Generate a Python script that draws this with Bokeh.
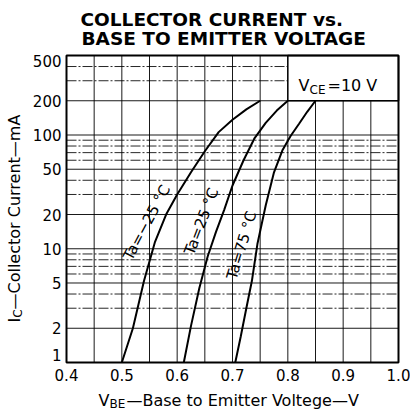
from math import radians, log10
from bokeh.plotting import figure
from bokeh.models import Label, Range1d
from bokeh.core.properties import value
from bokeh.embed import file_html
from bokeh.resources import INLINE

# ---- data ----
vbe_m25 = [0.500, 0.520, 0.540, 0.560, 0.580, 0.600, 0.625, 0.650, 0.675, 0.700, 0.725, 0.750]
ic_m25 = [1.0, 2.0, 5.2, 11.5, 20, 30, 47, 72, 106, 136, 168, 200]

vbe_25 = [0.612, 0.625, 0.640, 0.655, 0.670, 0.685, 0.700, 0.720, 0.740, 0.760, 0.780, 0.800]
ic_25 = [1.0, 2.1, 4.5, 8.5, 14, 22, 36, 60, 94, 128, 164, 200]

vbe_75 = [0.705, 0.715, 0.725, 0.735, 0.745, 0.760, 0.775, 0.790, 0.805, 0.820, 0.835, 0.850]
ic_75 = [1.0, 1.7, 3.0, 5.2, 11, 24, 47, 73, 98, 125, 160, 200]

series_labels = ["Ta=\u221225 \u00b0C", "Ta=25 \u00b0C", "Ta=75 \u00b0C"]

x_ticks = [0.4, 0.5, 0.6, 0.7, 0.8, 0.9, 1.0]
x_tick_labels = ["0.4", "0.5", "0.6", "0.7", "0.8", "0.9", "1.0"]
x_grid = [0.45, 0.5, 0.55, 0.6, 0.65, 0.7, 0.75, 0.8, 0.85, 0.9, 0.95]
y_ticks = [1, 2, 5, 10, 20, 50, 100, 200, 500]
y_tick_labels = ["1", "2", "5", "10", "20", "50", "100", "200", "500"]
y_grid_major = [2, 5, 10, 20, 50, 100, 200]
y_grid_minor = [3, 4, 6, 7, 8, 9, 30, 40, 60, 70, 80, 90, 300, 400]

# condition box (V_CE = 10 V) bounds in data space
vce_box = dict(left=0.8, right=1.0, bottom=200, top=500)

FONT = "DejaVu Sans"

# ---- layout (canvas pixels) ----
W, H = 410, 414
BOX_L, BOX_R, BOX_T, BOX_B = 66, 398, 55, 362

xmin, xmax = x_ticks[0], x_ticks[-1]
ymin, ymax = y_ticks[0], y_ticks[-1]
xs_per_px = (xmax - xmin) / (BOX_R - BOX_L)
x0 = xmin - BOX_L * xs_per_px
x1 = xmax + (W - BOX_R) * xs_per_px
dec_per_px = (log10(ymax) - log10(ymin)) / (BOX_B - BOX_T)
y0 = 10 ** (log10(ymin) - (H - BOX_B) * dec_per_px)
y1 = 10 ** (log10(ymax) + BOX_T * dec_per_px)

p = figure(width=W, height=H, x_range=Range1d(x0, x1), y_range=Range1d(y0, y1),
           y_axis_type="log", x_axis_location=None, y_axis_location=None,
           output_backend="svg", toolbar_location=None, min_border=0)
p.outline_line_color = None
p.background_fill_color = "white"
p.border_fill_color = "white"
p.xgrid.visible = False
p.ygrid.visible = False

# grid lines
p.segment(x0=x_grid, y0=[ymin] * len(x_grid), x1=x_grid, y1=[ymax] * len(x_grid),
          line_color="black", line_width=1, line_alpha=0.9)
p.segment(x0=[xmin] * len(y_grid_major), y0=y_grid_major, x1=[xmax] * len(y_grid_major),
          y1=y_grid_major, line_color="black", line_width=1, line_alpha=0.9)
p.segment(x0=[xmin] * len(y_grid_minor), y0=y_grid_minor, x1=[xmax] * len(y_grid_minor),
          y1=y_grid_minor, line_color="black", line_width=1, line_alpha=0.85,
          line_dash="10 2 2 2")

# condition box covers the grid
p.quad(fill_color="white", line_color="black", line_width=1.5, **vce_box)

# plot frame
p.quad(left=xmin, right=xmax, bottom=ymin, top=ymax, fill_color=None,
       line_color="black", line_width=2)

# tick labels
p.text(x=x_ticks, y=[ymin] * len(x_ticks), text=x_tick_labels, y_offset=6,
       text_align="center", text_baseline="top", text_font=value(FONT),
       text_font_size="15px", text_color="black")
y_offs = [0] * len(y_ticks)
y_offs[0] = -8
y_offs[-1] = 5
p.text(x=[xmin] * len(y_ticks), y=y_ticks, text=y_tick_labels, x_offset=-5, y_offset=y_offs,
       text_align="right", text_baseline="middle", text_font=value(FONT),
       text_font_size="15px", text_color="black")

# curves
for xs, ys in ((vbe_m25, ic_m25), (vbe_25, ic_25), (vbe_75, ic_75)):
    p.line(xs, ys, line_color="black", line_width=2)

# curve labels
for (lx, ly, ang), txt in zip(((0.545, 17.0, 62), (0.644, 17.4, 69), (0.7165, 10.7, 73)),
                              series_labels):
    p.add_layout(Label(x=lx, y=ly, text=txt, angle=radians(ang), text_align="center",
                       text_baseline="middle", text_font=FONT, text_font_size="15px",
                       text_color="black"))


def slabel(px, py, text, size, bold=False, angle=0.0, align="left"):
    p.add_layout(Label(x=px, y=H - py, x_units="screen", y_units="screen", text=text,
                       angle=angle, text_align=align, text_baseline="alphabetic",
                       text_font=FONT, text_font_size=f"{size}px",
                       text_font_style="bold" if bold else "normal", text_color="black"))


# V_CE = 10 V
slabel(298, 85, "V", 16)
slabel(309, 89, "CE", 12)
slabel(327, 85, "=10 V", 16)

# title
slabel(80, 19.3, "COLLECTOR CURRENT vs.", 18.5, bold=True)
slabel(81, 37.5, "BASE TO EMITTER VOLTAGE", 18.5, bold=True)

# x axis label
slabel(98, 400, "V", 16)
slabel(109, 403, "BE", 12)
slabel(126, 400, "\u2014Base to Emitter Voltege\u2014V", 16)

# y axis label (rotated)
rot = radians(90)
slabel(14, 322, "I", 16, angle=rot)
slabel(17, 317.3, "C", 12, angle=rot)
slabel(14, 309, "\u2014Collector Current\u2014mA", 16, angle=rot)

open("out.html", "w").write(file_html(p, INLINE))
